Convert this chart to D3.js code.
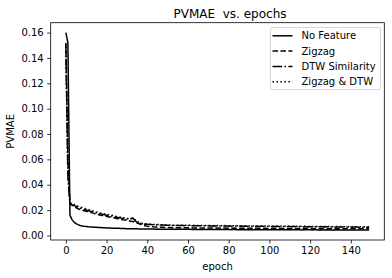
<!DOCTYPE html>
<html>
<head>
<meta charset="utf-8">
<script src="https://cdn.jsdelivr.net/npm/d3@7"></script>
<style>
  html, body { margin: 0; padding: 0; background: #fff; }
  svg { display: block; font-family: 'DejaVu Sans', sans-serif; }
</style>
</head>
<body>
<div id="chart"></div>
<script>
// PVMAE per epoch

const SERIES_NAMES = ['No Feature', 'Zigzag', 'DTW Similarity', 'Zigzag & DTW'];
const X_TICKS = [0, 20, 40, 60, 80, 100, 120, 140];
const Y_TICKS = [0.00, 0.02, 0.04, 0.06, 0.08, 0.10, 0.12, 0.14, 0.16];

const noFeature = [
  0.160, 0.152, 0.016, 0.0125, 0.0105, 0.0093, 0.0085, 0.0079, 0.0075, 0.0072,
  0.0070, 0.0068, 0.0067, 0.0066, 0.0065, 0.0064, 0.0063, 0.0062, 0.0061, 0.0060,
  0.0059, 0.0058, 0.0058, 0.0057, 0.0057, 0.0056, 0.0056, 0.0055, 0.0055, 0.0054,
  0.0053, 0.0053, 0.0053, 0.0052, 0.0052, 0.0052, 0.0051, 0.0051, 0.0051, 0.0051,
  0.0050, 0.0050, 0.0050, 0.0050, 0.0049, 0.0050, 0.0049, 0.0049, 0.0049, 0.0049,
  0.0049, 0.0049, 0.0048, 0.0049, 0.0048, 0.0048, 0.0048, 0.0048, 0.0048, 0.0048,
  0.0048, 0.0048, 0.0047, 0.0048, 0.0047, 0.0047, 0.0047, 0.0047, 0.0047, 0.0047,
  0.0047, 0.0046, 0.0047, 0.0046, 0.0046, 0.0047, 0.0046, 0.0046, 0.0046, 0.0046,
  0.0046, 0.0045, 0.0046, 0.0046, 0.0045, 0.0046, 0.0045, 0.0045, 0.0046, 0.0045,
  0.0045, 0.0045, 0.0045, 0.0046, 0.0045, 0.0045, 0.0044, 0.0045, 0.0045, 0.0045,
  0.0045, 0.0044, 0.0045, 0.0045, 0.0044, 0.0045, 0.0044, 0.0044, 0.0045, 0.0044,
  0.0044, 0.0044, 0.0045, 0.0044, 0.0044, 0.0044, 0.0043, 0.0044, 0.0044, 0.0044,
  0.0044, 0.0043, 0.0044, 0.0044, 0.0043, 0.0044, 0.0043, 0.0043, 0.0044, 0.0043,
  0.0043, 0.0043, 0.0043, 0.0044, 0.0043, 0.0043, 0.0042, 0.0043, 0.0043, 0.0043,
  0.0043, 0.0042, 0.0043, 0.0042, 0.0042, 0.0043, 0.0042, 0.0042, 0.0042, 0.0042
];

const zigzag = [
  0.152, 0.060, 0.026, 0.024, 0.023, 0.022, 0.021, 0.0205, 0.020, 0.0195,
  0.019, 0.0185, 0.018, 0.0178, 0.0172, 0.0168, 0.0165, 0.0160, 0.0158, 0.0155,
  0.015, 0.0148, 0.0143, 0.0140, 0.0137, 0.0133, 0.0130, 0.0127, 0.0124, 0.0122,
  0.012, 0.0116, 0.0112, 0.0110, 0.0104, 0.0098, 0.0092, 0.0086, 0.0080, 0.0076,
  0.0073, 0.0071, 0.0070, 0.0068, 0.0067, 0.0066, 0.0065, 0.0064, 0.0064, 0.0063,
  0.0062, 0.0062, 0.0061, 0.0062, 0.0061, 0.0060, 0.0061, 0.0060, 0.0060, 0.0061,
  0.0060, 0.0059, 0.0060, 0.0059, 0.0059, 0.0060, 0.0059, 0.0058, 0.0059, 0.0059,
  0.0058, 0.0059, 0.0058, 0.0058, 0.0059, 0.0058, 0.0057, 0.0058, 0.0058, 0.0057,
  0.0058, 0.0057, 0.0057, 0.0058, 0.0057, 0.0057, 0.0056, 0.0057, 0.0057, 0.0056,
  0.0057, 0.0056, 0.0056, 0.0057, 0.0056, 0.0056, 0.0055, 0.0056, 0.0056, 0.0055,
  0.0056, 0.0055, 0.0056, 0.0055, 0.0055, 0.0056, 0.0055, 0.0055, 0.0054, 0.0055,
  0.0055, 0.0054, 0.0055, 0.0055, 0.0054, 0.0055, 0.0054, 0.0054, 0.0055, 0.0054,
  0.0054, 0.0054, 0.0053, 0.0054, 0.0054, 0.0053, 0.0054, 0.0054, 0.0053, 0.0054,
  0.0053, 0.0053, 0.0054, 0.0053, 0.0053, 0.0053, 0.0052, 0.0053, 0.0053, 0.0053,
  0.0052, 0.0053, 0.0053, 0.0052, 0.0053, 0.0052, 0.0052, 0.0053, 0.0052, 0.0052
];

const dtwSimilarity = [
  0.151, 0.045, 0.025, 0.024, 0.0235, 0.023, 0.022, 0.0215, 0.021, 0.0205,
  0.020, 0.0195, 0.019, 0.0187, 0.018, 0.0178, 0.0175, 0.017, 0.0168, 0.0163,
  0.016, 0.0157, 0.0153, 0.015, 0.0147, 0.0143, 0.014, 0.0137, 0.0135, 0.0132,
  0.013, 0.0128, 0.0133, 0.0138, 0.0115, 0.0105, 0.0098, 0.0094, 0.0091, 0.0089,
  0.0088, 0.0087, 0.0086, 0.0085, 0.0084, 0.0083, 0.0083, 0.0082, 0.0082, 0.0081,
  0.0080, 0.0080, 0.0079, 0.0080, 0.0079, 0.0078, 0.0079, 0.0078, 0.0078, 0.0077,
  0.0078, 0.0077, 0.0077, 0.0076, 0.0077, 0.0076, 0.0076, 0.0077, 0.0076, 0.0075,
  0.0076, 0.0075, 0.0075, 0.0076, 0.0075, 0.0074, 0.0075, 0.0074, 0.0075, 0.0074,
  0.0074, 0.0073, 0.0074, 0.0074, 0.0073, 0.0074, 0.0073, 0.0073, 0.0072, 0.0073,
  0.0073, 0.0072, 0.0073, 0.0072, 0.0072, 0.0071, 0.0072, 0.0072, 0.0071, 0.0072,
  0.0071, 0.0071, 0.0070, 0.0071, 0.0071, 0.0070, 0.0071, 0.0070, 0.0070, 0.0071,
  0.0070, 0.0069, 0.0070, 0.0070, 0.0069, 0.0070, 0.0069, 0.0069, 0.0068, 0.0069,
  0.0069, 0.0068, 0.0069, 0.0068, 0.0068, 0.0069, 0.0068, 0.0067, 0.0068, 0.0068,
  0.0067, 0.0068, 0.0067, 0.0067, 0.0066, 0.0067, 0.0067, 0.0066, 0.0067, 0.0066,
  0.0066, 0.0065, 0.0066, 0.0066, 0.0065, 0.0066, 0.0065, 0.0065, 0.0064, 0.0065
];

const zigzagDtw = [
  0.145, 0.050, 0.026, 0.025, 0.0245, 0.024, 0.023, 0.0225, 0.022, 0.0215,
  0.021, 0.0205, 0.020, 0.0195, 0.019, 0.0185, 0.018, 0.0177, 0.0173, 0.017,
  0.0167, 0.0163, 0.016, 0.0157, 0.0153, 0.015, 0.0147, 0.0143, 0.014, 0.0137,
  0.0135, 0.0132, 0.013, 0.0136, 0.0125, 0.011, 0.0102, 0.0097, 0.0094, 0.0092,
  0.009, 0.0089, 0.0088, 0.0087, 0.0086, 0.0086, 0.0085, 0.0084, 0.0084, 0.0083,
  0.0083, 0.0082, 0.0082, 0.0081, 0.0082, 0.0081, 0.0081, 0.0080, 0.0081, 0.0080,
  0.0080, 0.0080, 0.0079, 0.0080, 0.0079, 0.0079, 0.0078, 0.0079, 0.0079, 0.0078,
  0.0078, 0.0079, 0.0078, 0.0077, 0.0078, 0.0078, 0.0077, 0.0077, 0.0078, 0.0077,
  0.0076, 0.0077, 0.0077, 0.0076, 0.0077, 0.0076, 0.0076, 0.0075, 0.0076, 0.0076,
  0.0075, 0.0076, 0.0075, 0.0075, 0.0074, 0.0075, 0.0075, 0.0074, 0.0075, 0.0074,
  0.0074, 0.0074, 0.0073, 0.0074, 0.0074, 0.0073, 0.0074, 0.0073, 0.0073, 0.0072,
  0.0073, 0.0073, 0.0072, 0.0073, 0.0072, 0.0072, 0.0071, 0.0072, 0.0072, 0.0071,
  0.0072, 0.0071, 0.0071, 0.0070, 0.0071, 0.0071, 0.0070, 0.0071, 0.0070, 0.0070,
  0.0070, 0.0069, 0.0070, 0.0070, 0.0069, 0.0070, 0.0069, 0.0069, 0.0068, 0.0069,
  0.0069, 0.0068, 0.0069, 0.0068, 0.0068, 0.0069, 0.0068, 0.0068, 0.0067, 0.0068
];

// matplotlib-like dash patterns at linewidth 1.5
const DASHES = [null, '5.55,2.4', '9.6,2.4,1.5,2.4', '1.5,2.475'];

const W = 392, H = 278;
const plot = { left: 50.7, right: 384.3, top: 22.7, bottom: 240 };

const allSeries = [noFeature, zigzag, dtwSimilarity, zigzagDtw];

// 5% padding like matplotlib autoscale
const nMax = d3.max(allSeries, s => s.length) - 1;
const xPad = nMax * 0.05;
const yMin = d3.min(allSeries, s => d3.min(s));
const yMax = d3.max(allSeries, s => d3.max(s));
const yPad = (yMax - yMin) * 0.05;

const x = d3.scaleLinear().domain([-xPad, nMax + xPad]).range([plot.left, plot.right]);
const y = d3.scaleLinear().domain([yMin - yPad, yMax + yPad]).range([plot.bottom, plot.top]);

const svg = d3.select('#chart').append('svg')
  .attr('width', W).attr('height', H)
  .attr('viewBox', `0 0 ${W} ${H}`);

svg.append('rect').attr('width', W).attr('height', H).attr('fill', '#fff');

// Lines
const line = d3.line().x((d, i) => x(i)).y(d => y(d));
const lines = svg.append('g');
allSeries.forEach((s, i) => {
  lines.append('path')
    .datum(s)
    .attr('d', line)
    .attr('fill', 'none')
    .attr('stroke', '#000')
    .attr('stroke-width', 1.5)
    .attr('stroke-linejoin', 'round')
    .attr('stroke-dasharray', DASHES[i]);
});

// Axes
const xAxis = svg.append('g')
  .attr('transform', `translate(0,${plot.bottom})`)
  .call(d3.axisBottom(x).tickValues(X_TICKS).tickSizeOuter(0).tickSize(3.5).tickPadding(3.5));
const yAxis = svg.append('g')
  .attr('transform', `translate(${plot.left},0)`)
  .call(d3.axisLeft(y).tickValues(Y_TICKS).tickFormat(d3.format('.2f')).tickSizeOuter(0).tickSize(3.5).tickPadding(3.5));

[xAxis, yAxis].forEach(a => {
  a.select('.domain').remove();
  a.selectAll('.tick line').attr('stroke', '#000').attr('stroke-width', 0.8);
  a.selectAll('.tick text')
    .attr('fill', '#000')
    .attr('font-size', 10)
    .attr('font-family', "'DejaVu Sans', sans-serif");
});

// Frame
svg.append('rect')
  .attr('x', plot.left).attr('y', plot.top)
  .attr('width', plot.right - plot.left).attr('height', plot.bottom - plot.top)
  .attr('fill', 'none').attr('stroke', '#000').attr('stroke-width', 0.8);

// Title and axis labels
svg.append('text')
  .attr('x', 230).attr('y', 18)
  .attr('text-anchor', 'middle')
  .attr('font-size', 12)
  .style('white-space', 'pre')
  .text('PVMAE  vs. epochs');

svg.append('text')
  .attr('x', (plot.left + plot.right) / 2).attr('y', 270)
  .attr('text-anchor', 'middle')
  .attr('font-size', 10)
  .text('epoch');

svg.append('text')
  .attr('transform', `translate(13.5,${(plot.top + plot.bottom) / 2}) rotate(-90)`)
  .attr('text-anchor', 'middle')
  .attr('font-size', 10)
  .text('PVMAE');

// Legend
const legend = svg.append('g').attr('transform', 'translate(270.5,27.5)');
legend.append('rect')
  .attr('width', 110).attr('height', 62)
  .attr('rx', 2)
  .attr('fill', '#fff').attr('fill-opacity', 0.8)
  .attr('stroke', '#ccc').attr('stroke-width', 0.8);

SERIES_NAMES.forEach((name, i) => {
  const g = legend.append('g').attr('transform', `translate(0,${8.3 + i * 15.3})`);
  g.append('line')
    .attr('x1', 2).attr('x2', 22)
    .attr('stroke', '#000').attr('stroke-width', 1.5)
    .attr('stroke-dasharray', DASHES[i]);
  g.append('text')
    .attr('x', 31).attr('y', 0)
    .attr('dy', '0.35em')
    .attr('font-size', 10)
    .text(name);
});
</script>
</body>
</html>
